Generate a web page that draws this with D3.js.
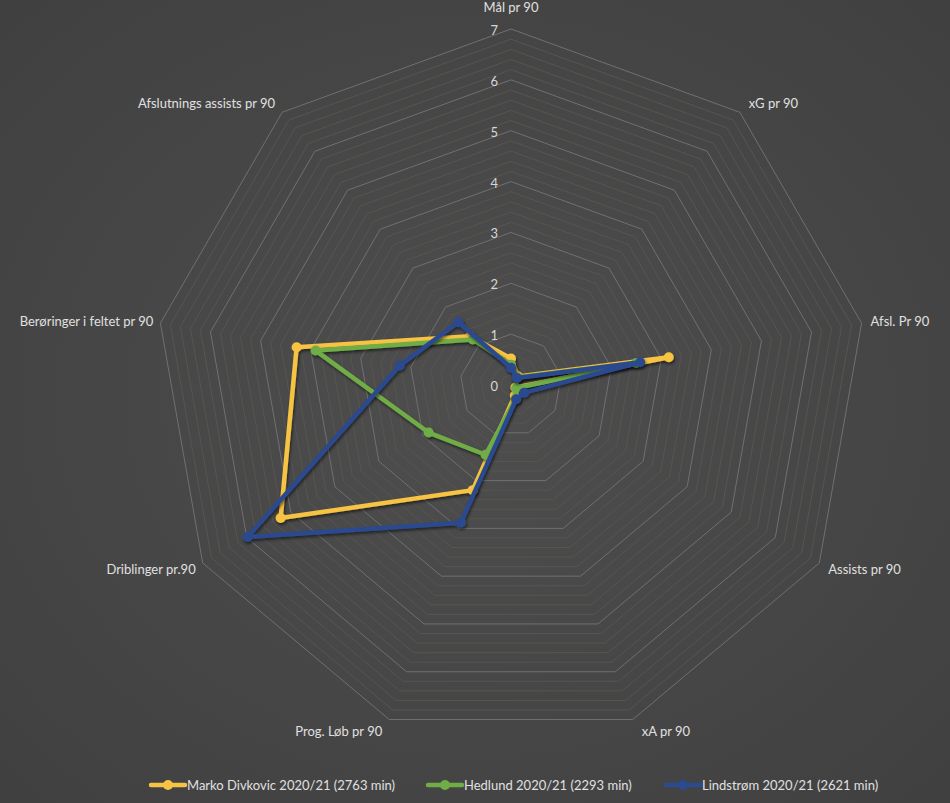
<!DOCTYPE html>
<html><head><meta charset="utf-8">
<script src="https://cdn.jsdelivr.net/npm/d3@7"></script>
<style>html,body{margin:0;padding:0;background:#454545;}svg{display:block;}</style>
</head><body>
<svg id="chart" width="950" height="803"></svg>
<script>
const axes = ["Mål pr 90","xG pr 90","Afsl. Pr 90","Assists pr 90","xA pr 90","Prog. Løb pr 90","Driblinger pr.90","Berøringer i feltet pr 90","Afslutnings assists pr 90"];
const seriesNames = ["Marko Divkovic 2020/21 (2763 min)","Hedlund 2020/21 (2293 min)","Lindstrøm 2020/21 (2621 min)"];
const marko    = [0.52, 0.22, 3.15, 0.10, 0.22, 2.20, 5.23, 4.28, 1.25];
const hedlund  = [0.40, 0.20, 2.50, 0.12, 0.28, 1.46, 1.87, 3.90, 1.17];
const lindstrom= [0.34, 0.18, 2.58, 0.30, 0.30, 2.88, 5.98, 2.22, 1.61];
const tickValues = [0,1,2,3,4,5,6,7];
const colors = ["#F6C343","#70AD47","#2C4A8E"];

const W=950,H=803,cx=511,cy=385;
const svg=d3.select("#chart");
const defs=svg.append("defs");
const rg=defs.append("radialGradient").attr("id","bg").attr("cx","50%").attr("cy","50%").attr("r","75%");
rg.append("stop").attr("offset","0%").attr("stop-color","#4e4e4e");
rg.append("stop").attr("offset","100%").attr("stop-color","#3f3f3f");
const f=defs.append("filter").attr("id","shadow").attr("x","-20%").attr("y","-20%").attr("width","140%").attr("height","140%");
f.append("feDropShadow").attr("dx",1).attr("dy",2).attr("stdDeviation",1.8).attr("flood-color","#000").attr("flood-opacity",0.55);
svg.append("rect").attr("width",W).attr("height",H).attr("fill","url(#bg)");

const r=d3.scaleLinear().domain([0,7]).range([0,356]);
const ang=d3.scaleLinear().domain([0,axes.length]).range([0,2*Math.PI]);
const pt=(i,v)=>[cx+r(v)*Math.sin(ang(i)), cy-r(v)*Math.cos(ang(i))];

const g=svg.append("g");
// minor grid
const minor=d3.range(0,70).map(d=>d/10).filter(v=>v>0 && Math.abs(v*5-Math.round(v*5))<1e-6 && Math.abs(v-Math.round(v))>1e-6);
const ringLine=d3.line();
minor.forEach(v=>{
  g.append("path").attr("d",ringLine(d3.range(axes.length).map(i=>pt(i,v)))+"Z")
   .attr("fill","none").attr("stroke","#58554e").attr("stroke-width",1);
});
tickValues.filter(v=>v>0).forEach(v=>{
  g.append("path").attr("d",ringLine(d3.range(axes.length).map(i=>pt(i,v)))+"Z")
   .attr("fill","none").attr("stroke","#707070").attr("stroke-width",1);
});
// tick labels
g.selectAll("text.tick").data(tickValues).join("text").attr("class","tick")
 .attr("x",cx-13).attr("y",d=>cy-r(d)+1).attr("text-anchor","end").attr("dominant-baseline","central")
 .attr("font-family","Lato, 'Open Sans', sans-serif").attr("font-size",13).attr("fill","#d6d6d6").text(d=>d);
// axis labels
axes.forEach((a,i)=>{
  const t=ang(i), s=Math.sin(t), c=Math.cos(t);
  const [x,y]=pt(i,7);
  let anchor=s>0.1?"start":(s<-0.1?"end":"middle");
  let dx=anchor==="start"?9:(anchor==="end"?-7:0);
  let dy=-c*12+(anchor==="middle"?-10:0);
  g.append("text").attr("x",x+dx).attr("y",y+dy).attr("text-anchor",anchor).attr("dominant-baseline","central")
   .attr("font-family","Lato, 'Open Sans', sans-serif").attr("font-size",13).attr("fill","#e0e0e0").text(a);
});
// series
const data=[marko,hedlund,lindstrom];
data.forEach((vals,k)=>{
  const pts=vals.map((v,i)=>pt(i,v));
  const sg=g.append("g").attr("filter","url(#shadow)");
  sg.append("path").attr("d",d3.line()(pts)+"Z").attr("fill","none").attr("stroke",colors[k])
    .attr("stroke-width",4.5).attr("stroke-linejoin","round");
  sg.selectAll("circle").data(pts).join("circle").attr("cx",d=>d[0]).attr("cy",d=>d[1]).attr("r",5).attr("fill",colors[k]);
});
// legend
const lx=[151,428,666], ly=785;
seriesNames.forEach((n,k)=>{
  const lg=svg.append("g").attr("transform",`translate(${lx[k]},${ly})`);
  lg.append("line").attr("x1",0).attr("x2",34).attr("y1",0).attr("y2",0).attr("stroke",colors[k]).attr("stroke-width",4.5).attr("stroke-linecap","round");
  lg.append("circle").attr("cx",17).attr("cy",0).attr("r",5).attr("fill",colors[k]);
  lg.append("text").attr("x",36).attr("y",0).attr("dominant-baseline","central")
    .attr("font-family","Lato, 'Open Sans', sans-serif").attr("font-size",13).attr("fill","#e0e0e0").text(n);
});
</script>
</body></html>
